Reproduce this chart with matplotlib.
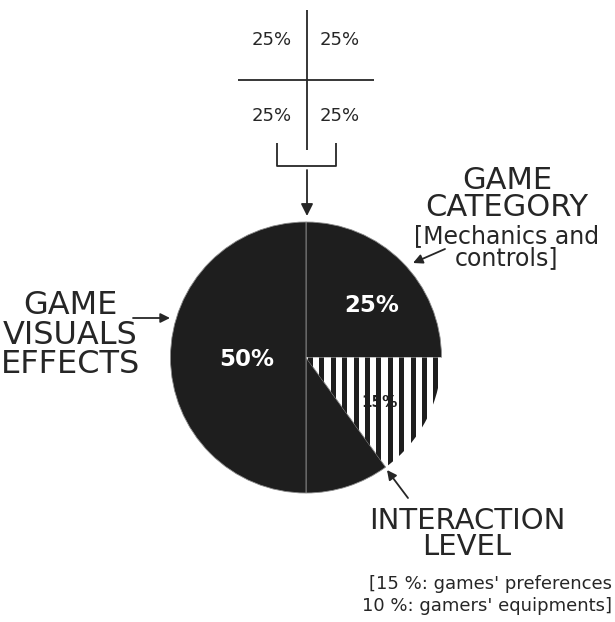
import numpy as np
import matplotlib.pyplot as plt
from matplotlib.patches import Rectangle

W, H = 615, 622

# pie shares, clockwise from 12 o'clock
SHARES = [25, 15, 10, 50]
SLICE_LABELS = ["25%", "15%", "", "50%"]
QUADRANTS = [25, 25, 25, 25]

DARK = "#1e1e1e"
INK = "#262626"

plt.rcParams["font.family"] = ["DejaVu Sans"]


def px(x, y):
    # picture pixels (y down) -> axes data (y up)
    return (x, H - y)


def arrow(tail, tip, ms=14):
    ax.annotate("", xy=px(*tip), xytext=px(*tail),
                arrowprops=dict(arrowstyle="-|>", color=INK, lw=1.3,
                                mutation_scale=ms, shrinkA=0, shrinkB=0))


fig = plt.figure(figsize=(W / 100, H / 100), dpi=100)
ax = fig.add_axes([0, 0, 1, 1])

# ==========================================
# PIE
# ==========================================

cx, cy = px(306, 357.5)
r = 135.5

wedges, _ = ax.pie(
    SHARES,
    startangle=90,
    counterclock=False,
    colors=[DARK, "white", DARK, DARK],
    radius=r,
    center=(cx, cy),
    wedgeprops=dict(edgecolor="#8c8c8c", linewidth=0.6),
)

striped = wedges[1]
striped.set_edgecolor("none")
for x0 in np.arange(cx + 2, cx + r, 11.4):
    bar = Rectangle((x0, cy - r), 5, 2 * r, facecolor=DARK,
                    edgecolor="none", zorder=striped.get_zorder() + 0.1)
    ax.add_patch(bar)
    bar.set_clip_path(striped)

# label placement: fraction of radius, angle nudge (deg) from the bisector
label_r = [0.62, 0.64, 0, 0.435]
label_da = [-6.5, -4.6, 0, 2.4]
label_c = ["white", DARK, "white", "white"]
label_s = [16.5, 11, 16.5, 16.5]
for w, lab, f, da, c, s in zip(wedges, SLICE_LABELS, label_r, label_da,
                               label_c, label_s):
    if not lab:
        continue
    ang = np.deg2rad((w.theta1 + w.theta2) / 2 + da)
    ax.text(cx + f * r * np.cos(ang), cy + f * r * np.sin(ang), lab,
            ha="center", va="center", color=c, fontsize=s,
            fontweight="bold", zorder=5)

# ==========================================
# QUADRANT SKETCH ON TOP
# ==========================================

lk = dict(color=INK, lw=1.3, solid_capstyle="butt")
ax.plot(*zip(px(307, 10), px(307, 150)), **lk)
ax.plot(*zip(px(238, 80), px(374, 80)), **lk)
ax.plot(*zip(px(277, 143), px(277, 166), px(336, 166), px(336, 143)), **lk)
arrow((307, 170), (307, 216), ms=18)

quad_pos = [(272, 40), (340, 40), (272, 116), (340, 116)]
for v, (x, y) in zip(QUADRANTS, quad_pos):
    ax.text(*px(x, y), f"{v}%", ha="center", va="center",
            fontsize=13, color=INK)

# ==========================================
# CALLOUTS
# ==========================================

ax.text(*px(70, 335), "GAME\nVISUALS\nEFFECTS", ha="center", va="center",
        multialignment="center", fontsize=23, linespacing=0.95, color=INK)
arrow((133, 318), (170, 318))

ax.text(*px(507, 194), "GAME\nCATEGORY", ha="center", va="center",
        multialignment="center", fontsize=22, linespacing=0.9, color=INK)
ax.text(*px(507, 247), "[Mechanics and\ncontrols]", ha="center",
        va="center", multialignment="center", fontsize=17,
        linespacing=0.9, color=INK)
arrow((445, 249), (413, 263))

ax.text(*px(467, 534), "INTERACTION\nLEVEL", ha="center", va="center",
        multialignment="center", fontsize=21, linespacing=0.95, color=INK)
ax.text(*px(612, 595), "[15 %: games' preferences\n10 %: gamers' equipments]",
        ha="right", va="center", multialignment="right", fontsize=13,
        linespacing=1.35, color=INK)
arrow((408, 498), (387, 470))

ax.set_xlim(0, W)
ax.set_ylim(0, H)
ax.set_aspect("auto")
ax.axis("off")

fig.savefig("out.png", dpi=100)
